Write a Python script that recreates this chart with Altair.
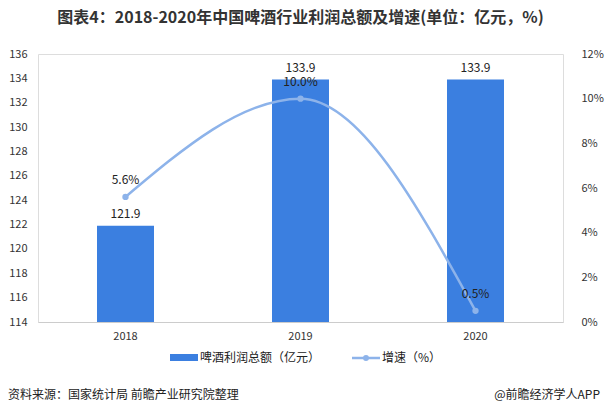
import altair as alt
import pandas as pd

years = ["2018", "2019", "2020"]
profit = [121.9, 133.9, 133.9]
growth = [5.6, 10.0, 0.5]
profit_labels = ["121.9", "133.9", "133.9"]
growth_labels = ["5.6%", "10.0%", "0.5%"]

df = pd.DataFrame({"year": years, "profit": profit, "growth": growth,
                   "plabel": profit_labels, "glabel": growth_labels})

FONT = "Noto Sans CJK SC"
BAR = "#3b7fe0"
LINE = "#8db3ea"

x = alt.X("year:N", title=None,
          axis=alt.Axis(labelAngle=0, labelFontSize=11, labelColor="#333", labelFont=FONT,
                        domainColor="#cccccc", ticks=False, labelPadding=8),
          scale=alt.Scale(paddingInner=0.67, paddingOuter=0.335))

left_axis = alt.Axis(values=list(range(114, 137, 2)), grid=False, domain=False, ticks=False,
                     labelFontSize=11, labelColor="#333", labelFont=FONT, labelPadding=11)
yl = alt.Y("profit:Q", title=None,
           scale=alt.Scale(domain=[114, 136], nice=False, zero=False), axis=left_axis)

bars = alt.Chart(df).mark_bar(color=BAR, size=57, clip=True).encode(x=x, y=yl)
bar_text = alt.Chart(df).mark_text(dy=-12, fontSize=12, font=FONT, color="#222").encode(
    x=x, y=yl, text="plabel:N")
left = alt.layer(bars, bar_text)

right_axis = alt.Axis(orient="right", values=list(range(0, 13, 2)), grid=False, domain=False,
                      ticks=False, labelExpr="datum.value + '%'",
                      labelFontSize=11, labelColor="#333", labelFont=FONT, labelPadding=18)
yr = alt.Y("growth:Q", title=None, scale=alt.Scale(domain=[0, 12], nice=False), axis=right_axis)
line = alt.Chart(df).mark_line(color=LINE, strokeWidth=2.5, interpolate="monotone").encode(x=x, y=yr)
pts = alt.Chart(df).mark_point(color=LINE, filled=True, size=40, opacity=1).encode(x=x, y=yr)
ltext = alt.Chart(df).mark_text(dy=-17, fontSize=12, font=FONT, color="#222").encode(
    x=x, y=yr, text="glabel:N")
right = alt.layer(line, pts, ltext)

# legend and footer
leg = pd.DataFrame({"k": [0]})
leg_bar = alt.Chart(leg).mark_rect(color=BAR).encode(
    x=alt.value(132), x2=alt.value(160), y=alt.value(300), y2=alt.value(307))
leg_bar_t = alt.Chart(leg).mark_text(align="left", baseline="middle", fontSize=12, font=FONT,
                                     color="#222", text="啤酒利润总额（亿元）").encode(
    x=alt.value(162), y=alt.value(304))
leg_line = alt.Chart(leg).mark_rule(color=LINE, strokeWidth=2.5).encode(
    x=alt.value(314), x2=alt.value(342), y=alt.value(304))
leg_pt = alt.Chart(leg).mark_point(color=LINE, filled=True, size=35, opacity=1).encode(
    x=alt.value(328), y=alt.value(304))
leg_line_t = alt.Chart(leg).mark_text(align="left", baseline="middle", fontSize=12, font=FONT,
                                      color="#222", text="增速（%）").encode(
    x=alt.value(344), y=alt.value(304))
src = alt.Chart(leg).mark_text(align="left", baseline="middle", fontSize=12, font=FONT,
                               color="#222", text="资料来源：国家统计局 前瞻产业研究院整理").encode(
    x=alt.value(-30), y=alt.value(341))
app = alt.Chart(leg).mark_text(align="right", baseline="middle", fontSize=12, font=FONT,
                               color="#222", text="@前瞻经济学人APP").encode(
    x=alt.value(562), y=alt.value(341))
extras = alt.layer(leg_bar, leg_bar_t, leg_line, leg_pt, leg_line_t, src, app)

chart = alt.layer(left, right, extras).resolve_scale(y="independent").properties(
    width=525, height=268,
    title=alt.TitleParams("图表4：2018-2020年中国啤酒行业利润总额及增速(单位：亿元，%)",
                          font=FONT, fontSize=16, fontWeight="bold", color="#333",
                          anchor="middle", offset=22),
    autosize=alt.AutoSizeParams(type="none"),
    padding={"left": 38, "top": 54, "right": 44, "bottom": 94},
).configure_view(strokeWidth=0, stroke="transparent").configure(background="white")

chart.save("out.html", embed_options={"renderer": "svg", "actions": False})
